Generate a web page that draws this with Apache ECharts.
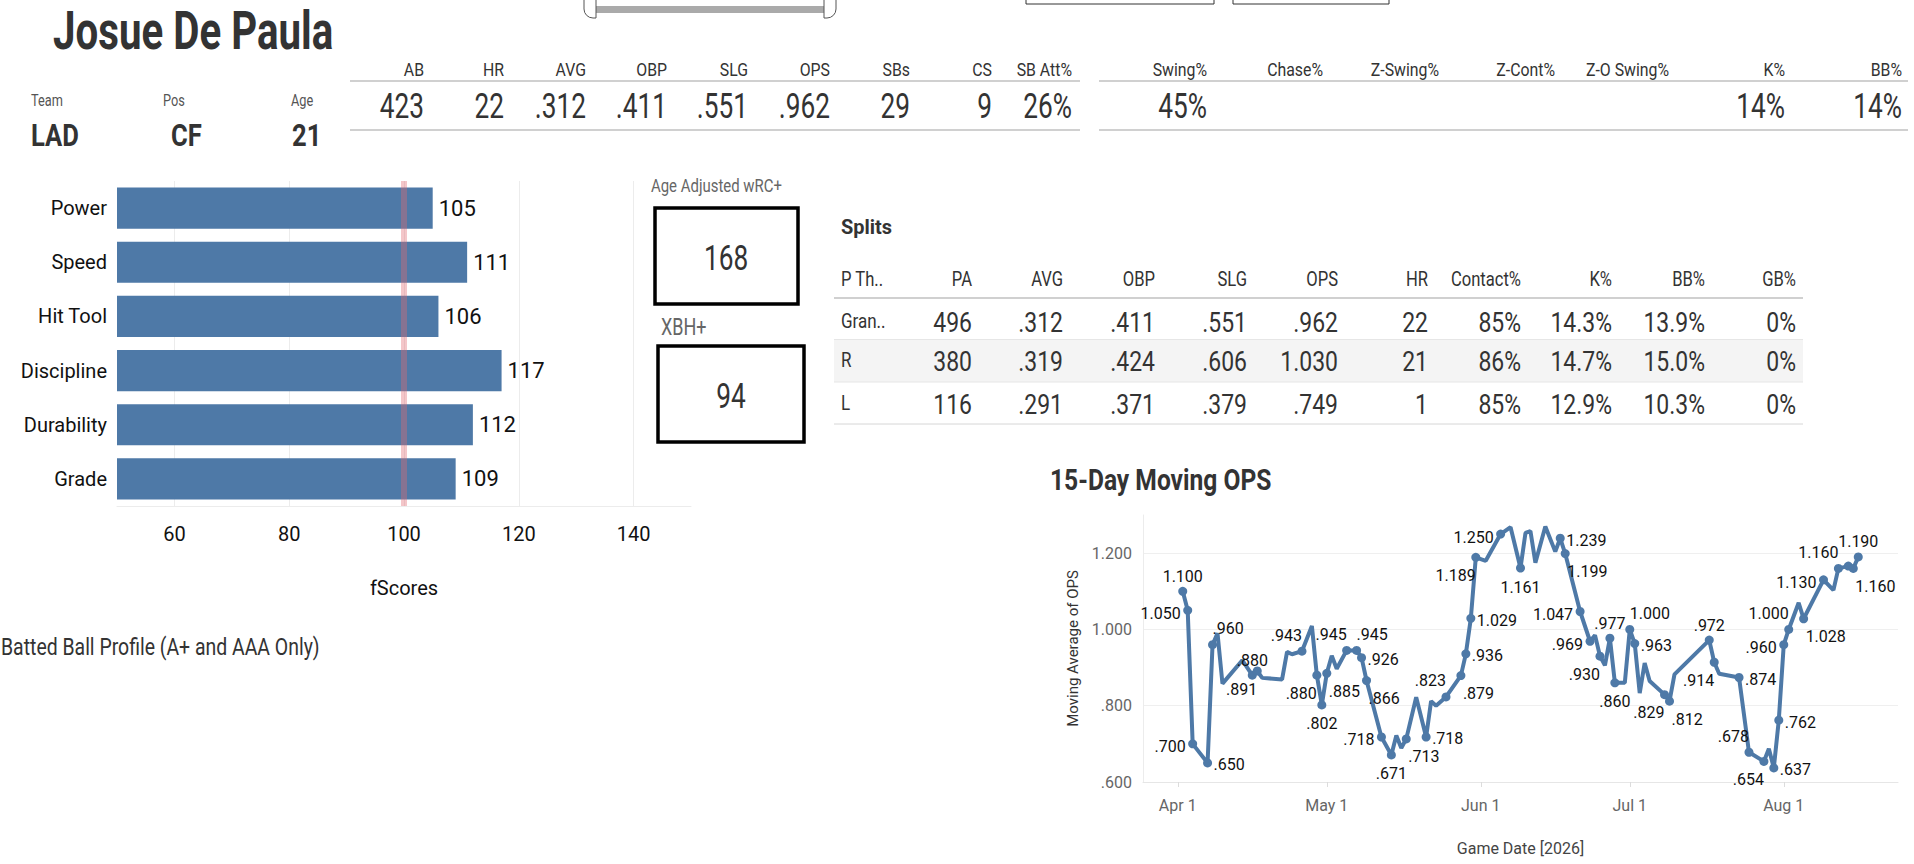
<!DOCTYPE html>
<html>
<head>
<meta charset="utf-8">
<title>Josue De Paula</title>
<script src="https://cdn.jsdelivr.net/npm/echarts@6/dist/echarts.min.js"></script>
<style>
html, body { margin: 0; padding: 0; background: #fff; }
#main { width: 1914px; height: 864px; }
</style>
</head>
<body>
<div id="main"></div>
<script>
// player header
var playerName = 'Josue De Paula';
var infoLabels = ['Team', 'Pos', 'Age'];
var infoValues = ['LAD', 'CF', '21'];

// top stat strips
var statCols = ['AB', 'HR', 'AVG', 'OBP', 'SLG', 'OPS', 'SBs', 'CS', 'SB Att%'];
var statVals = ['423', '22', '.312', '.411', '.551', '.962', '29', '9', '26%'];
var plateCols = ['Swing%', 'Chase%', 'Z-Swing%', 'Z-Cont%', 'Z-O Swing%', 'K%', 'BB%'];
var plateVals = ['45%', '', '', '', '', '14%', '14%'];

// fScores bars
var fScoreCats = ['Power', 'Speed', 'Hit Tool', 'Discipline', 'Durability', 'Grade'];
var fScoreVals = [105, 111, 106, 117, 112, 109];
var fScoreRef = 100;

// boxes
var wrcLabel = 'Age Adjusted wRC+';
var wrcValue = '168';
var xbhLabel = 'XBH+';
var xbhValue = '94';

// splits table
var splitCols = ['P Th..', 'PA', 'AVG', 'OBP', 'SLG', 'OPS', 'HR', 'Contact%', 'K%', 'BB%', 'GB%'];
var splitGrand = ['Gran..', '496', '.312', '.411', '.551', '.962', '22', '85%', '14.3%', '13.9%', '0%'];
var splitR = ['R', '380', '.319', '.424', '.606', '1.030', '21', '86%', '14.7%', '15.0%', '0%'];
var splitL = ['L', '116', '.291', '.371', '.379', '.749', '1', '85%', '12.9%', '10.3%', '0%'];

// 15-day moving OPS
var opsDates = ['2026-04-02','2026-04-03','2026-04-04','2026-04-07','2026-04-08','2026-04-09','2026-04-10','2026-04-14','2026-04-16','2026-04-17',
  '2026-04-18','2026-04-22','2026-04-23','2026-04-24','2026-04-26','2026-04-28','2026-04-29','2026-04-30','2026-05-01','2026-05-02',
  '2026-05-03','2026-05-05','2026-05-07','2026-05-08','2026-05-09','2026-05-12','2026-05-14','2026-05-15','2026-05-16','2026-05-17',
  '2026-05-19','2026-05-21','2026-05-22','2026-05-23','2026-05-25','2026-05-28','2026-05-29','2026-05-30','2026-05-31','2026-06-02',
  '2026-06-05','2026-06-07','2026-06-09','2026-06-10','2026-06-11','2026-06-12','2026-06-14','2026-06-16','2026-06-17','2026-06-18',
  '2026-06-21','2026-06-23','2026-06-24','2026-06-25','2026-06-26','2026-06-27','2026-06-28','2026-06-30','2026-07-01','2026-07-02',
  '2026-07-03','2026-07-04','2026-07-05','2026-07-08','2026-07-09','2026-07-10','2026-07-17','2026-07-18','2026-07-19','2026-07-23',
  '2026-07-25','2026-07-28','2026-07-29','2026-07-30','2026-07-31','2026-08-01','2026-08-02','2026-08-04','2026-08-05','2026-08-09',
  '2026-08-11','2026-08-12','2026-08-14','2026-08-15','2026-08-16'];
var opsValues = [1.100, 1.050, 0.700, 0.650, 0.960, 0.990, 0.858, 0.919, 0.880, 0.891,
  0.873, 0.869, 0.941, 0.935, 0.943, 1.009, 0.880, 0.802, 0.885, 0.931,
  0.897, 0.945, 0.945, 0.926, 0.866, 0.718, 0.671, 0.722, 0.689, 0.713,
  0.822, 0.718, 0.812, 0.800, 0.823, 0.879, 0.936, 1.029, 1.189, 1.180,
  1.250, 1.268, 1.161, 1.253, 1.258, 1.175, 1.270, 1.204, 1.239, 1.199,
  1.047, 0.969, 0.985, 0.930, 0.906, 0.977, 0.860, 0.860, 1.000, 0.963,
  0.833, 0.912, 0.865, 0.829, 0.812, 0.882, 0.972, 0.914, 0.884, 0.874,
  0.678, 0.654, 0.687, 0.637, 0.762, 0.960, 1.000, 1.070, 1.028, 1.130,
  1.103, 1.160, 1.166, 1.160, 1.190];
// where each marked point's label sits ('' = plain vertex, '.' = marker only)
var opsLabelSide = ['t','l','l','r','tr','','','','t','bl',
  '','','','','tl','','bl','b','br','',
  '','tl','tr','r','br','l','b','','','br',
  '','r','','','tl','br','r','r','bl','',
  'l','','b','','','','','','r','br',
  'l','l','','bl','','t','b','','tr','r',
  '','','','bl','br','','t','bl','','r',
  'tl','bl','','r','r','l','tl','','br','l',
  '','tl','.','br','t'];
var monthNames = ['Jan','Feb','Mar','Apr','May','Jun','Jul','Aug','Sep','Oct','Nov','Dec'];

var FONT = 'Roboto, "Noto Sans", sans-serif';
var BLUE = '#4e79a7';

// text squeezed sideways to look like the condensed dashboard font
function txt(x, y, s, size, o) {
    o = o || {};
    return {
        type: 'text', x: x, y: y, silent: true, scaleX: o.sx || 0.78,
        style: {
            text: s, fontSize: size, lineHeight: size, fontFamily: FONT,
            fontWeight: o.bold ? 'bold' : 'normal',
            fill: o.color || '#333',
            align: o.align || 'left', verticalAlign: 'middle'
        }
    };
}
function hline(x1, x2, y, color, w) {
    return { type: 'line', silent: true, shape: { x1: x1, y1: y, x2: x2, y2: y }, style: { stroke: color, lineWidth: w } };
}
function box(x, y, w, h, style) {
    return { type: 'rect', silent: true, shape: { x: x, y: y, width: w, height: h, r: style.r || 0 }, style: style };
}

var g = [];
// title + slider + filter boxes cut at the top
g.push(txt(53, 30, playerName, 53, { bold: true, sx: 0.76 }));
g.push(box(592, 6, 236, 7, { fill: '#aaa' }));
g.push(box(584, -12, 12, 30, { fill: '#fff', stroke: '#555', lineWidth: 1, r: [0, 0, 0, 9] }));
g.push(box(824, -12, 12, 30, { fill: '#fff', stroke: '#555', lineWidth: 1, r: [0, 0, 9, 0] }));
g.push(box(1026, -20, 188, 24, { fill: '#fff', stroke: '#333', lineWidth: 1 }));
g.push(box(1233, -20, 156, 24, { fill: '#fff', stroke: '#333', lineWidth: 1 }));

// team / pos / age
var infoX = [31, 163, 291];
var infoValX = [31, 171, 292];
for (var i = 0; i < infoLabels.length; i++) {
    g.push(txt(infoX[i], 100, infoLabels[i], 17, { color: '#555', sx: 0.75 }));
    g.push(txt(infoValX[i], 135, infoValues[i], 32, { bold: true, sx: 0.8 }));
}

// stat strips
var statRight = [424, 504, 586, 667, 748, 830, 910, 992, 1072];
for (var i = 0; i < statCols.length; i++) {
    g.push(txt(statRight[i], 70, statCols[i], 18, { align: 'right', sx: 0.88 }));
    g.push(txt(statRight[i], 106, statVals[i], 35, { align: 'right', sx: 0.75 }));
}
var plateRight = [1207, 1323, 1439, 1555, 1669, 1785, 1902];
for (var i = 0; i < plateCols.length; i++) {
    g.push(txt(plateRight[i], 70, plateCols[i], 18, { align: 'right', sx: 0.88 }));
    g.push(txt(plateRight[i], 106, plateVals[i], 35, { align: 'right', sx: 0.75 }));
}
g.push(hline(350, 1080, 81, '#d0d0d0', 2));
g.push(hline(350, 1080, 130, '#d0d0d0', 2));
g.push(hline(1099, 1908, 81, '#d0d0d0', 2));
g.push(hline(1099, 1908, 130, '#d0d0d0', 2));

// wRC+ / XBH+ boxes
g.push(txt(651, 186, wrcLabel, 18, { color: '#666', sx: 0.83 }));
g.push(box(655, 208, 143, 96, { fill: 'none', stroke: '#000', lineWidth: 3.5 }));
g.push(txt(726, 258, wrcValue, 35, { align: 'center', sx: 0.75 }));
g.push(txt(661, 327, xbhLabel, 24, { color: '#666', sx: 0.75 }));
g.push(box(658, 346, 146, 96, { fill: 'none', stroke: '#000', lineWidth: 3.5 }));
g.push(txt(731, 396, xbhValue, 35, { align: 'center', sx: 0.75 }));

g.push(txt(1, 647, 'Batted Ball Profile (A+ and AAA Only)', 24, { sx: 0.81 }));

// splits table
g.push(txt(841, 227, 'Splits', 21, { bold: true, sx: 0.95 }));
g.push(box(834, 340, 969, 42, { fill: '#f4f4f4' }));
var splitRight = [0, 972, 1063, 1155, 1247, 1338, 1428, 1521, 1612, 1705, 1796];
var splitRows = [splitGrand, splitR, splitL];
var rowY = [322, 361, 404];
for (var c = 0; c < splitCols.length; c++) {
    var left = c === 0;
    g.push(txt(left ? 841 : splitRight[c], 279, splitCols[c], 20, { align: left ? 'left' : 'right', sx: 0.83 }));
    for (var r = 0; r < splitRows.length; r++) {
        g.push(txt(left ? 841 : splitRight[c], rowY[r], splitRows[r][c], left ? 20 : 28,
            { align: left ? 'left' : 'right', sx: left ? 0.85 : 0.82 }));
    }
}
g.push(hline(834, 1803, 298, '#d0d0d0', 2));
g.push(hline(834, 1803, 339.5, '#e6e6e6', 1));
g.push(hline(834, 1803, 382, '#e6e6e6', 1));
g.push(hline(834, 1803, 424, '#d6d6d6', 1));

// line chart title
g.push(txt(1050, 480, '15-Day Moving OPS', 30, { bold: true, sx: 0.82 }));

var labelPlace = {
    t:  { align: 'center', verticalAlign: 'bottom', offset: [0, -7] },
    b:  { align: 'center', verticalAlign: 'top', offset: [0, 11] },
    l:  { align: 'right', verticalAlign: 'middle', offset: [-7, 3] },
    r:  { align: 'left', verticalAlign: 'middle', offset: [6, 2] },
    tl: { align: 'right', verticalAlign: 'bottom', offset: [0, -8] },
    tr: { align: 'left', verticalAlign: 'bottom', offset: [0, -8] },
    bl: { align: 'right', verticalAlign: 'top', offset: [0, 10] },
    br: { align: 'left', verticalAlign: 'top', offset: [2, 10] }
};
function opsFmt(v) {
    var s = v.toFixed(3);
    return v < 1 ? s.slice(1) : s;
}
var opsData = opsDates.map(function (d, i) {
    var side = opsLabelSide[i];
    var item = { value: [d, opsValues[i]] };
    if (!side) {
        item.symbol = 'none';
    } else if (side === '.') {
        item.label = { show: false };
    } else {
        var p = labelPlace[side];
        item.label = { show: true, position: 'inside', align: p.align, verticalAlign: p.verticalAlign, offset: p.offset };
    }
    return item;
});

var chartDom = document.getElementById('main');
var myChart = echarts.init(chartDom, null, { renderer: 'svg' });
var option;
option = {
    animation: false,
    textStyle: { fontFamily: FONT },
    graphic: { elements: g },
    grid: [
        { left: 117, top: 181, width: 574, height: 325 },
        { left: 1143, top: 515, width: 755, height: 267 }
    ],
    xAxis: [
        {
            gridIndex: 0, type: 'value', min: 50, max: 150, interval: 10,
            axisLine: { show: true, lineStyle: { color: '#ececec' } },
            axisTick: { show: false },
            splitLine: { show: true, lineStyle: { color: ['rgba(0,0,0,0)', '#ececec'], width: 1 } },
            axisLabel: {
                margin: 18, fontSize: 20, color: '#111', fontFamily: FONT,
                formatter: function (v) { return v % 20 === 0 ? String(v) : ''; }
            },
            name: 'fScores', nameLocation: 'middle', nameGap: 72,
            nameTextStyle: { fontSize: 20, color: '#111', fontFamily: FONT }
        },
        {
            gridIndex: 1, type: 'time', min: '2026-03-25', max: '2026-08-24', splitNumber: 5,
            axisLine: { show: true, lineStyle: { color: '#e6e6e6' } },
            axisTick: { show: true, length: 5, lineStyle: { color: '#dcdcdc' } },
            splitLine: { show: false },
            axisLabel: {
                margin: 15, fontSize: 16, color: '#666', fontFamily: FONT,
                formatter: function (v) {
                    var d = new Date(v);
                    return d.getDate() === 1 ? monthNames[d.getMonth()] + ' 1' : '';
                }
            },
            name: 'Game Date [2026]', nameLocation: 'middle', nameGap: 58,
            nameTextStyle: { fontSize: 16, color: '#444', fontFamily: FONT }
        }
    ],
    yAxis: [
        {
            gridIndex: 0, type: 'category', data: fScoreCats, inverse: true,
            axisLine: { show: false }, axisTick: { show: false },
            axisLabel: { margin: 10, fontSize: 20, color: '#111', fontFamily: FONT }
        },
        {
            gridIndex: 1, type: 'value', min: 0.6, max: 1.3, interval: 0.2,
            axisLine: { show: true, lineStyle: { color: '#ececec' } },
            axisTick: { show: false },
            splitLine: { show: true, showMaxLine: false, lineStyle: { color: '#efefef' } },
            axisLabel: {
                margin: 11, fontSize: 16, color: '#666', fontFamily: FONT, showMaxLabel: false,
                formatter: function (v) {
                    if (Math.abs(v * 5 - Math.round(v * 5)) > 1e-6) return '';
                    return opsFmt(v);
                }
            },
            name: 'Moving Average of OPS', nameLocation: 'middle', nameGap: 63, nameRotate: 90,
            nameTextStyle: { fontSize: 15, color: '#333', fontFamily: FONT }
        }
    ],
    series: [
        {
            name: 'fScores', type: 'bar', xAxisIndex: 0, yAxisIndex: 0,
            data: fScoreVals, barCategoryGap: '24%',
            itemStyle: { color: BLUE },
            label: { show: true, position: 'right', distance: 6, fontSize: 22, color: '#111', fontFamily: FONT },
            markLine: {
                silent: true, symbol: 'none', label: { show: false },
                lineStyle: { color: 'rgba(226,104,112,0.38)', width: 6, type: 'solid' },
                data: [{ xAxis: fScoreRef }]
            }
        },
        {
            name: 'Moving OPS', type: 'line', xAxisIndex: 1, yAxisIndex: 1,
            data: opsData, symbol: 'circle', symbolSize: 9, showAllSymbol: true,
            lineStyle: { color: BLUE, width: 4 },
            itemStyle: { color: BLUE },
            label: {
                show: false, fontSize: 16, color: '#111', fontFamily: FONT,
                formatter: function (p) { return opsFmt(p.value[1]); }
            }
        }
    ]
};
option && myChart.setOption(option);
</script>
</body>
</html>
